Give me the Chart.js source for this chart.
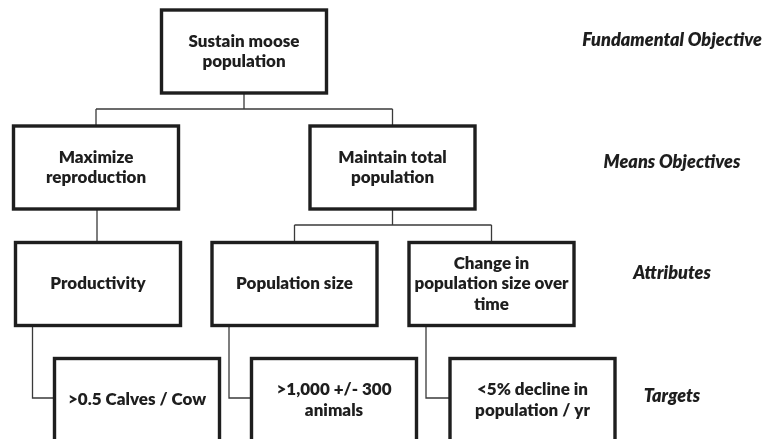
<!DOCTYPE html>
<html>
<head>
<meta charset="utf-8">
<script src="https://cdn.jsdelivr.net/npm/chart.js@4/dist/chart.umd.min.js"></script>
<style>
html,body{margin:0;padding:0;background:#fff;}
#wrap{width:763px;height:439px;position:relative;}
</style>
</head>
<body>
<div id="wrap"><canvas id="c" width="763" height="439"></canvas></div>
<script>
// ---- Data ----
const nodeText = [
  "Sustain moose\npopulation",
  "Maximize\nreproduction",
  "Maintain total\npopulation",
  "Productivity",
  "Population size",
  "Change in\npopulation size over\ntime",
  ">0.5 Calves / Cow",
  ">1,000 +/- 300\nanimals",
  "<5% decline in\npopulation / yr"
];
const nodeX      = [244, 96, 392.5, 98, 294.5, 491.5, 137, 334, 532.5];
const nodeLevel  = [0, 1, 1, 2, 2, 2, 3, 3, 3];
const nodeParent = [-1, 0, 0, 1, 2, 2, 3, 4, 5];
const levelY     = [51.5, 167.5, 284, 400];
const levelNames = ["Fundamental Objective", "Means Objectives", "Attributes", "Targets"];
const levelNameY = [40, 162, 273, 396];
const levelNameX = 672;

// ---- Layout constants (style) ----
const BOX_W = 165, BOX_H = 83;
const BUS_GAP = 16;      // distance of bus line below parent box
const ELBOW_IN = 17;     // elbow connector offset from attribute box left

// Build connector segments from the tree structure
const segments = [];
const children = {};
nodeParent.forEach((p, i) => { if (p >= 0) (children[p] = children[p] || []).push(i); });
Object.keys(children).forEach(pk => {
  const p = +pk, kids = children[p];
  const pBottom = levelY[nodeLevel[p]] + BOX_H / 2;
  if (nodeLevel[p] === 2) {
    kids.forEach(k => {
      const sx = nodeX[p] - BOX_W / 2 + ELBOW_IN;
      const ty = levelY[nodeLevel[k]] - 2;
      segments.push([{x: sx, y: pBottom}, {x: sx, y: ty}, {x: nodeX[k] - BOX_W / 2, y: ty}]);
    });
  } else if (kids.length === 1) {
    const k = kids[0];
    const mx = (nodeX[p] + nodeX[k]) / 2;
    segments.push([{x: mx, y: pBottom}, {x: mx, y: levelY[nodeLevel[k]] - BOX_H / 2}]);
  } else {
    const busY = pBottom + BUS_GAP;
    const xs = kids.map(k => nodeX[k]);
    segments.push([{x: nodeX[p], y: pBottom}, {x: nodeX[p], y: busY}]);
    segments.push([{x: Math.min(...xs), y: busY}, {x: Math.max(...xs), y: busY}]);
    kids.forEach(k => segments.push([{x: nodeX[k], y: busY}, {x: nodeX[k], y: levelY[nodeLevel[k]] - BOX_H / 2}]));
  }
});

const datasets = segments.map(s => ({
  type: 'line', data: s, showLine: true, borderColor: '#3a3a3a', borderWidth: 1.3,
  pointRadius: 0, fill: false, tension: 0
}));

const FONT = "Lato, 'Open Sans', sans-serif";

const boxPlugin = {
  id: 'boxes',
  afterDatasetsDraw(chart) {
    const {ctx, scales: {x, y}} = chart;
    ctx.save();
    nodeText.forEach((t, i) => {
      const cx = nodeX[i], cy = levelY[nodeLevel[i]];
      const l = x.getPixelForValue(cx - BOX_W / 2), r = x.getPixelForValue(cx + BOX_W / 2);
      const tp = y.getPixelForValue(cy - BOX_H / 2), b = y.getPixelForValue(cy + BOX_H / 2);
      ctx.fillStyle = '#fff';
      ctx.fillRect(l, tp, r - l, b - tp);
      ctx.lineWidth = 3.4;
      ctx.strokeStyle = '#1e1e1e';
      ctx.strokeRect(l, tp, r - l, b - tp);
      const lines = t.split('\n');
      const lh = 20.5;
      ctx.fillStyle = '#1e1e1e';
      ctx.font = "800 17px " + FONT;
      ctx.textAlign = 'center';
      ctx.textBaseline = 'middle';
      const pcx = x.getPixelForValue(cx), pcy = y.getPixelForValue(cy);
      lines.forEach((ln, j) => {
        ctx.fillText(ln, pcx, pcy + (j - (lines.length - 1) / 2) * lh);
      });
    });
    ctx.font = "italic 800 18px " + FONT;
    ctx.fillStyle = '#1e1e1e';
    ctx.textAlign = 'center';
    ctx.textBaseline = 'middle';
    levelNames.forEach((n, i) => {
      ctx.fillText(n, x.getPixelForValue(levelNameX), y.getPixelForValue(levelNameY[i]));
    });
    ctx.restore();
  }
};

new Chart(document.getElementById('c'), {
  type: 'scatter',
  data: { datasets },
  options: {
    responsive: false,
    animation: false,
    layout: { padding: 0 },
    plugins: { legend: { display: false }, tooltip: { enabled: false } },
    scales: {
      x: { type: 'linear', min: 0, max: 763, display: false },
      y: { type: 'linear', min: 0, max: 439, reverse: true, display: false }
    }
  },
  plugins: [boxPlugin]
});
</script>
</body>
</html>
